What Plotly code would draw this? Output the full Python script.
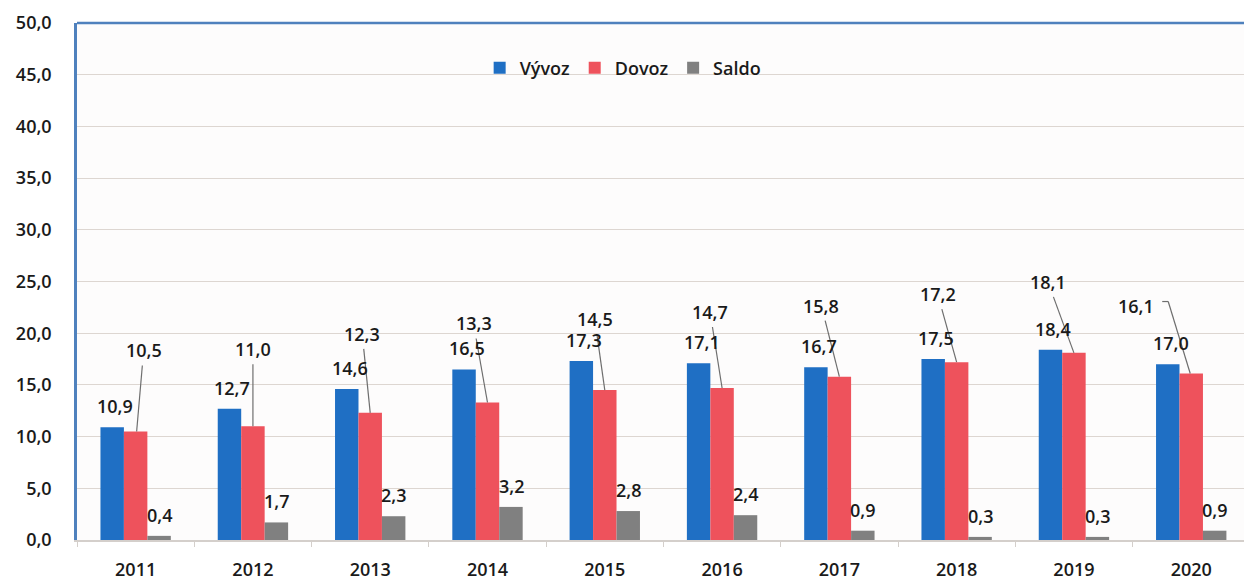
import plotly.graph_objects as go

years = ['2011', '2012', '2013', '2014', '2015', '2016', '2017', '2018', '2019', '2020']
vyvoz = [10.9, 12.7, 14.6, 16.5, 17.3, 17.1, 16.7, 17.5, 18.4, 17.0]
dovoz = [10.5, 11.0, 12.3, 13.3, 14.5, 14.7, 15.8, 17.2, 18.1, 16.1]
saldo = [0.4, 1.7, 2.3, 3.2, 2.8, 2.4, 0.9, 0.3, 0.3, 0.9]
y_ticks = [0, 5, 10, 15, 20, 25, 30, 35, 40, 45, 50]

# leader-line label offsets for Dovoz (pixels: label centre relative to line end, y down)
dov_end_dx = [1, 0, 0, 0, 0, 0, 0, 0, 0, -1]
dov_lab_dx = [7, 0, -8, -14, -10, -12, -18, -19, -26, -54]
dov_lab_dy = [-81, -77, -79, -79, -71, -76, -71, -68, -71, -68]

BLUE = '#1F6FC4'
RED = '#EE525C'
GRAY = '#808080'
LEAD = '#6e6e6e'
FONT = 'Open Sans'
TXT = '#1a1a1a'
FSZ = 18
WGT = 600

def fmt(v):
    return f"{v:.1f}".replace('.', ',')

xpos = list(range(len(years)))

fig = go.Figure()
fig.add_trace(go.Bar(name='Vývoz', x=xpos, y=vyvoz, marker_color=BLUE, marker_line_width=0))
fig.add_trace(go.Bar(name='Dovoz', x=xpos, y=dovoz, marker_color=RED, marker_line_width=0))
fig.add_trace(go.Bar(name='Saldo', x=xpos, y=saldo, marker_color=GRAY, marker_line_width=0))

BAR_PX = 23.5
lab_font = dict(family=FONT, size=FSZ, color=TXT, weight=WGT)
ann = []
shapes = [dict(type='line', xref='paper', yref='paper', x0=0, x1=1, y0=1, y1=1,
               line=dict(color='#4F81BD', width=2.5))]

for i, xp in enumerate(xpos):
    ann.append(dict(x=xp, y=vyvoz[i], xref='x', yref='y', text=fmt(vyvoz[i]), showarrow=False,
                    xshift=-BAR_PX + 3, yshift=21, xanchor='center', yanchor='middle', font=lab_font))
    ann.append(dict(x=xp, y=saldo[i], xref='x', yref='y', text=fmt(saldo[i]), showarrow=False,
                    xshift=BAR_PX, yshift=21, xanchor='center', yanchor='middle', font=lab_font))
    ex = dov_end_dx[i]
    lx = ex + dov_lab_dx[i]
    ly = -dov_lab_dy[i]  # upward pixels
    ann.append(dict(x=xp, y=dovoz[i], xref='x', yref='y', text=fmt(dovoz[i]), showarrow=False,
                    xshift=lx, yshift=ly, xanchor='center', yanchor='middle', font=lab_font))
    if i < len(xpos) - 1:
        frac = (ly - 15) / ly
        sx = ex + dov_lab_dx[i] * frac
        sy = ly - 15
        shapes.append(dict(type='line', xref='x', yref='y', xsizemode='pixel', ysizemode='pixel',
                           xanchor=xp, yanchor=dovoz[i], x0=sx, y0=sy, x1=ex, y1=0,
                           line=dict(color=LEAD, width=1.2)))
    else:
        shapes.append(dict(type='line', xref='x', yref='y', xsizemode='pixel', ysizemode='pixel',
                           xanchor=xp, yanchor=dovoz[i], x0=-23, y0=72, x1=ex, y1=0,
                           line=dict(color=LEAD, width=1.2)))
        shapes.append(dict(type='line', xref='x', yref='y', xsizemode='pixel', ysizemode='pixel',
                           xanchor=xp, yanchor=dovoz[i], x0=-29, y0=72, x1=-23, y1=72,
                           line=dict(color=LEAD, width=1.2)))

fig.update_layout(
    width=1244, height=581,
    margin=dict(l=77, r=0, t=23, b=39),
    paper_bgcolor='white', plot_bgcolor='#fdfcfc',
    barmode='group', bargap=0.4, bargroupgap=0,
    separators=', ',
    font=dict(family=FONT, size=FSZ, color=TXT, weight=WGT),
    showlegend=True,
    legend=dict(orientation='h', x=0.468, y=0.913, xanchor='center', yanchor='middle',
                bgcolor='rgba(0,0,0,0)', font=dict(family=FONT, size=FSZ, color=TXT, weight=WGT),
                itemwidth=30, traceorder='normal'),
    annotations=ann,
    shapes=shapes,
    xaxis=dict(range=[-0.5, 9.45], showgrid=False, zeroline=False,
               tickmode='array', tickvals=xpos, ticktext=years,
               showline=True, linecolor='#d4cfcb', linewidth=1.5,
               ticks='', ticklabelstandoff=13,
               minor=dict(tickmode='array', tickvals=[p - 0.5 for p in xpos] + [xpos[-1] + 0.5],
                          ticks='outside', ticklen=5, tickcolor='#d4cfcb', showgrid=False),
               tickfont=dict(family=FONT, size=FSZ, color=TXT, weight=WGT)),
    yaxis=dict(range=[0, 50], tickvals=y_ticks, tickformat='.1f',
               showgrid=True, gridcolor='#ddd6d1', gridwidth=1.2,
               showline=True, linecolor='#4F81BD', linewidth=2.5,
               zeroline=False, ticks='', ticklabelstandoff=19,
               tickfont=dict(family=FONT, size=FSZ, color=TXT, weight=WGT)),
)

fig.write_html('out.html', config={'displayModeBar': False},
               post_script="document.body.style.margin='0px';")
